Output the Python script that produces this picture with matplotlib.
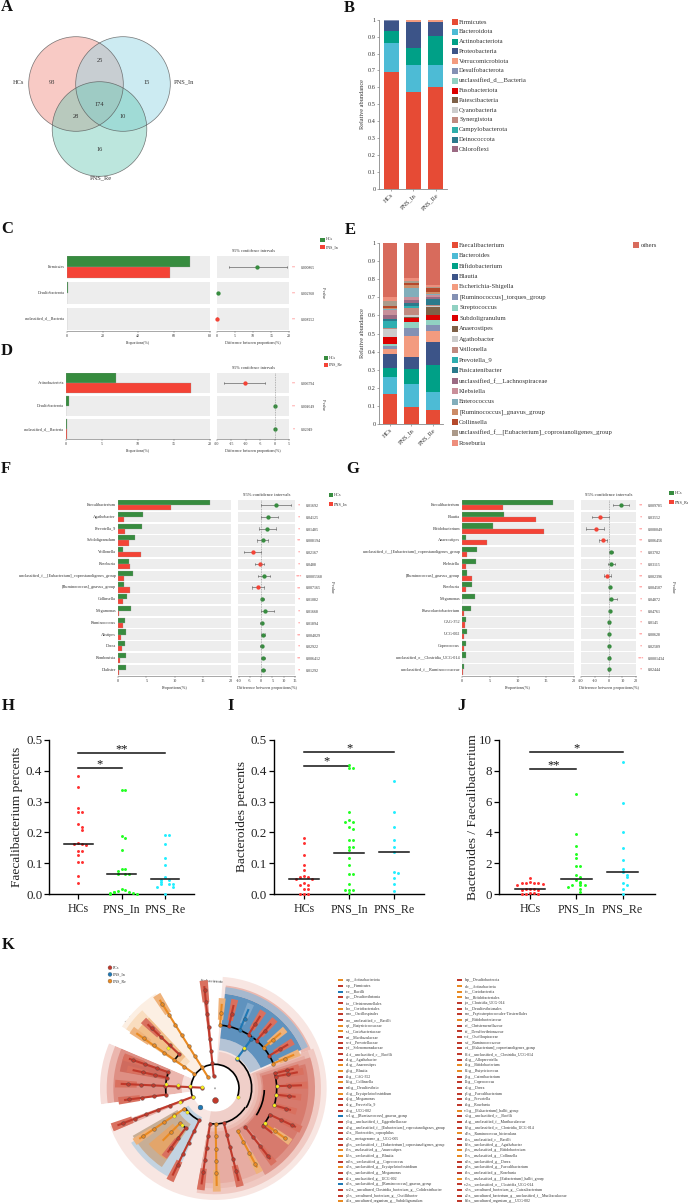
#!/usr/bin/python
# multi panel microbiome figure, everything placed in pixel coords of the page

import numpy as np
import matplotlib
matplotlib.use('Agg')
import matplotlib.pyplot as plt
from matplotlib.patches import Circle, Wedge, Arc, Rectangle

plt.rcParams['font.family'] = ['Liberation Serif', 'DejaVu Serif']
plt.rcParams['axes.unicode_minus'] = False

W, H = 688, 1204
GREEN = '#378C3F'
RED = '#F44336'
ROW = '#EDEDED'

# ---- A venn
venn_names = ['HCs', 'PNS_In', 'PNS_Re']
venn_colors = ['#F08A80', '#8FD3E4', '#6CC9B5']
venn_counts = [93, 15, 16, 25, 28, 10, 174]

# ---- B phylum stack
groups = ['HCs', 'PNS_In', 'PNS_Re']
phyla = ['Firmicutes', 'Bacteroidota', 'Actinobacteriota', 'Proteobacteria', 'Verrucomicrobiota',
         'Desulfobacterota', 'unclassified_d__Bacteria', 'Fusobacteriota', 'Patescibacteria',
         'Cyanobacteria', 'Synergistota', 'Campylobacterota', 'Deinococcota', 'Chloroflexi']
phyla_colors = ['#E64B35', '#4DBBD5', '#00A087', '#3C5488', '#F39B7F', '#8491B4', '#91D1C2',
                '#DC0000', '#7E6148', '#CCCCCC', '#C08A80', '#2FAEAA', '#2B7A8C', '#9B6A83']
phyla_hcs = [.69, .175, .07, .058, .001, .004, .001, 0, 0, .001, 0, 0, 0, 0]
phyla_in = [.575, .16, .095, .155, .013, .001, .001, 0, 0, 0, 0, 0, 0, 0]
phyla_re = [.605, .13, .17, .08, .014, .001, 0, 0, 0, 0, 0, 0, 0, 0]

# ---- E genus stack
genera = ['Faecalibacterium', 'Bacteroides', 'Bifidobacterium', 'Blautia', 'Escherichia-Shigella',
          '[Ruminococcus]_torques_group', 'Streptococcus', 'Subdoligranulum', 'Anaerostipes',
          'Agathobacter', 'Veillonella', 'Prevotella_9', 'Fusicatenibacter',
          'unclassified_f__Lachnospiraceae', 'Klebsiella', 'Enterococcus',
          '[Ruminococcus]_gnavus_group', 'Collinsella',
          'unclassified_f__[Eubacterium]_coprostanoligenes_group', 'Roseburia', 'others']
genera_colors = ['#E64B35', '#4DBBD5', '#00A087', '#3C5488', '#F39B7F', '#8491B4', '#91D1C2',
                 '#DC0000', '#7E6148', '#CCCCCC', '#C08A80', '#2FAEB0', '#2B7A8C', '#9B6A83',
                 '#C98F9A', '#82AEBB', '#CC8C68', '#B5492B', '#AB9A8A', '#EE8E7C', '#D86B5C']
genera_hcs = [.162, .095, .053, .075, .027, .018, .01, .038, .004, .043, .005, .042, .011, .017,
              .03, .005, .005, .012, .028, .02, .30]
genera_in = [.095, .127, .083, .065, .115, .045, .033, .024, .005, .008, .04, .015, .015, .015,
             .015, .05, .02, .01, .01, .02, .19]
genera_re = [.075, .103, .147, .13, .06, .032, .03, .023, .045, .005, .008, .002, .03, .015,
             .01, .005, .01, .02, .01, .01, .23]

# ---- C, D extended error bars
c_names = ['Firmicutes', 'Desulfobacterota', 'unclassified_d__Bacteria']
c_a = [69, 0.7, 0.3]
c_b = [57.5, 0.05, 0.05]
c_diff = [11.2, 0.2, -0.1]
c_lo = [3.2, 0.1, -0.2]
c_hi = [19.4, 0.3, 0.0]
c_p = ['0.000865', '0.002368', '0.008252']
c_star = ['**', '**', '**']

d_names = ['Actinobacteriota', 'Desulfobacterota', 'unclassified_d__Bacteria']
d_a = [7.0, 0.35, 0.2]
d_b = [17.3, 0.05, 0.1]
d_diff = [-10.4, 0.3, 0.1]
d_lo = [-17.6, 0.2, 0.0]
d_hi = [-3.5, 0.4, 0.2]
d_p = ['0.006794', '0.004649', '0.02949']
d_star = ['**', '**', '*']

f_names = ['Faecalibacterium', 'Agathobacter', 'Prevotella_9', 'Subdoligranulum', 'Veillonella',
           'Roseburia', 'unclassified_f__[Eubacterium]_coprostanoligenes_group',
           '[Ruminococcus]_gnavus_group', 'Collinsella', 'Megamonas', 'Ruminococcus', 'Alistipes',
           'Dorea', 'Romboutsia', 'Dialister']
f_a = [16.2, 4.4, 4.2, 3.0, 0.8, 1.9, 2.7, 1.0, 1.6, 2.3, 1.3, 1.4, 1.25, 1.5, 1.4]
f_b = [9.3, 1.0, 1.2, 2.0, 4.0, 2.1, 1.1, 2.1, 0.85, 0.1, 0.85, 0.5, 0.65, 0.3, 0.15]
f_diff = [6.6, 3.2, 2.7, 0.6, -3.6, -0.5, 1.2, -1.4, 0.4, 1.8, 0.2, 0.6, 0.2, 0.9, 0.9]
f_lo = [0, 0, -0.8, -2, -7.5, -2.6, -1.5, -3.9, -0.3, -0.3, -0.5, -0.2, -0.5, 0.1, 0.1]
f_hi = [13.2, 7.3, 6.6, 2.9, -0.2, 1.4, 3.9, 1.1, 1.2, 5.8, 1.0, 1.5, 1.0, 1.8, 1.8]
f_p = ['0.01692', '0.04125', '0.01485', '0.008194', '0.02167', '0.0488', '0.0005568', '0.007165',
       '0.01082', '0.01668', '0.01894', '0.004029', '0.02922', '0.006412', '0.01292']
f_star = ['*', '*', '*', '**', '*', '*', '***', '**', '*', '*', '*', '**', '*', '**', '*']

g_names = ['Faecalibacterium', 'Blautia', 'Bifidobacterium', 'Anaerostipes',
           'unclassified_f__[Eubacterium]_coprostanoligenes_group', 'Klebsiella',
           '[Ruminococcus]_gnavus_group', 'Roseburia', 'Megamonas', 'Phascolarctobacterium',
           'CAG-352', 'UCG-002', 'Coprococcus', 'unclassified_o__Clostridia_UCG-014',
           'unclassified_f__Ruminococcaceae']
g_a = [16.2, 7.5, 5.5, 0.7, 2.7, 2.5, 0.95, 1.8, 2.25, 1.55, 0.75, 0.85, 0.65, 0.75, 0.35]
g_b = [7.4, 13.2, 14.6, 4.5, 0.9, 0.7, 1.8, 0.65, 0.05, 0.3, 0.5, 0.4, 0.35, 0.02, 0.15]
g_diff = [8.8, -6, -9.3, -4, 1.7, 1.7, -1, 1, 2.1, 1, 0, 0.2, 0.2, 0.5, 0]
g_lo = [2.9, -11.7, -16, -7.1, 0, -0.7, -3.1, 0, 0, 0, -0.7, -0.5, -0.5, 0, -0.7]
g_hi = [14.8, 0, -2.9, -1, 3.3, 4.5, 1.7, 2.1, 6, 2.1, 1.2, 0.9, 0.9, 1.4, 0.7]
g_p = ['0.009785', '0.03552', '0.008049', '0.006456', '0.03702', '0.03115', '0.002396', '0.004507',
       '0.04872', '0.04761', '0.0145', '0.00628', '0.02589', '0.0001434', '0.02444']
g_star = ['**', '*', '**', '**', '*', '*', '**', '**', '*', '*', '*', '**', '*', '***', '*']

# ---- H, I, J scatter values
h_hcs = [.384, .348, .278, .265, .265, .228, .218, .209, .167, .162, .162, .160, .141, .141, .126,
         .106, .106, .059, .037]
h_in = [.336, .336, .187, .181, .143, .083, .083, .075, .067, .067, .067, .018, .014, .012, .008,
        .008, .006, .005, .004, .002, .002]
h_re = [.191, .191, .163, .117, .095, .056, .046, .046, .041, .032, .032, .032, .023, .023, .002]
h_mean = [.162, .066, .048]
h_sig = [(0, 1, .407, '*'), (0, 2, .456, '**')]

i_hcs = [.183, .167, .128, .095, .079, .059, .055, .055, .05, .05, .035, .03, .03, .016, .016,
         .001, .001, .001]
i_in = [.419, .407, .407, .266, .24, .235, .235, .217, .21, .176, .176, .154, .154, .143, .116,
        .095, .067, .067, .032, .014, .014, .014, .003]
i_re = [.365, .267, .217, .176, .154, .136, .073, .068, .054, .033, .011]
i_mean = [.051, .133, .136]
i_sig = [(0, 1, .416, '*'), (0, 2, .459, '*')]

j_hcs = [1.05, .78, .75, .75, .72, .7, .65, .62, .35, .33, .32, .3, .3, .08, .06, .05, .05, .04]
j_in = [6.47, 3.92, 3.15, 2.6, 2.37, 1.85, 1.8, 1.23, 1.15, .93, .82, .7, .6, .6, .6, .5, .32, .17]
j_re = [8.53, 5.9, 4.03, 2.97, 2.22, 1.66, 1.42, 1.23, 1.14, .75, .6, .37, 0]
j_mean = [.37, .97, 1.42]
j_sig = [(0, 1, 8.08, '**'), (0, 2, 9.2, '*')]

# ---- K cladogram key
key_a = ['a:p__Actinobacteriota', 'c:p__Firmicutes', 'e:c__Bacilli', 'g:c__Desulfovibrionia',
         'i:o__Christensenellales', 'k:o__Coriobacteriales', 'm:o__Oscillospirales',
         'o:o__unclassified_c__Bacilli', 'q:f__Butyricicoccaceae', 's:f__Coriobacteriaceae',
         'u:f__Muribaculaceae', 'w:f__Prevotellaceae', 'y:f__Selenomonadaceae',
         'a1:f__unclassified_c__Bacilli', 'c1:g__Agathobacter', 'e1:g__Anaerostipes', 'g1:g__Blautia',
         'i1:g__CAG-352', 'k1:g__Collinsella', 'm1:g__Desulfovibrio', 'o1:g__Erysipelatoclostridium',
         'q1:g__Megamonas', 's1:g__Prevotella_9', 'u1:g__UCG-002', 'w1:g__[Ruminococcus]_gnavus_group',
         'y1:g__unclassified_f__Eggerthellaceae', 'a2:g__unclassified_f__[Eubacterium]_coprostanoligenes_group',
         'c2:s__Bacteroides_coprophilus', 'e2:s__metagenome_g__UCG-005',
         'g2:s__unclassified_f__[Eubacterium]_coprostanoligenes_group', 'i2:s__unclassified_g__Anaerostipes',
         'k2:s__unclassified_g__Blautia', 'm2:s__unclassified_g__Coprococcus',
         'o2:s__unclassified_g__Erysipelatoclostridium', 'q2:s__unclassified_g__Megamonas',
         's2:s__unclassified_g__UCG-002', 'u2:s__unclassified_g__[Ruminococcus]_gnavus_group',
         'w2:s__uncultured_Clostridia_bacterium_g__Colidextribacter',
         'y2:s__uncultured_bacterium_g__Oscillibacter', 'a3:s__uncultured_organism_g__Subdoligranulum']
key_a_grp = 'ORBRRORROO' 'RRRRROOROR' 'ORRRBRRRRR' 'OORORRBRRO'
key_b = ['b:p__Desulfobacterota', 'd:c__Actinobacteria', 'f:c__Coriobacteriia', 'h:o__Bifidobacteriales',
         'j:o__Clostridia_UCG-014', 'l:o__Desulfovibrionales', 'n:o__Peptostreptococcales-Tissierellales',
         'p:f__Bifidobacteriaceae', 'r:f__Christensenellaceae', 't:f__Desulfovibrionaceae',
         'v:f__Oscillospiraceae', 'x:f__Ruminococcaceae', 'z:f__[Eubacterium]_coprostanoligenes_group',
         'b1:f__unclassified_o__Clostridia_UCG-014', 'd1:g__Alloprevotella', 'f1:g__Bifidobacterium',
         'h1:g__Butyricicoccus', 'j1:g__Catenibacterium', 'l1:g__Coprococcus', 'n1:g__Dorea',
         'p1:g__Faecalibacterium', 'r1:g__Prevotella', 't1:g__Roseburia', 'v1:g__[Eubacterium]_hallii_group',
         'x1:g__unclassified_c__Bacilli', 'z1:g__unclassified_f__Muribaculaceae',
         'b2:g__unclassified_o__Clostridia_UCG-014', 'd2:s__Ruminococcus_bicirculans',
         'f2:s__unclassified_c__Bacilli', 'h2:s__unclassified_g__Agathobacter',
         'j2:s__unclassified_g__Bifidobacterium', 'l2:s__unclassified_g__Collinsella',
         'n2:s__unclassified_g__Dorea', 'p2:s__unclassified_g__Faecalibacterium',
         'r2:s__unclassified_g__Roseburia', 't2:s__unclassified_g__[Eubacterium]_hallii_group',
         'v2:s__unclassified_o__Clostridia_UCG-014', 'x2:s__uncultured_bacterium_g__Catenibacterium',
         'z2:s__uncultured_bacterium_g__unclassified_f__Muribaculaceae',
         'b3:s__uncultured_organism_g__UCG-002']
key_b_grp = 'ROOORRRORR' 'RRRRROORRR' 'RRRORRRORR' 'OORRRORRRR'
clade_colors = {'R': '#C0392B', 'B': '#1F78B4', 'O': '#E98A22'}
clade_light = {'R': '#D9705F', 'B': '#7FA8CC', 'O': '#EFB27A'}
clade_names = ['PCs', 'PNS_In', 'PNS_Re']

# branches of the cladogram: angle, inner radius, outer radius, clade
# radii are in zoomed units where the outer rim is about 350
tree_branches = [
    (85.4, 190, 251, 'O'), (77.4, 190, 253, 'R'), (67, 190, 255, 'B'), (58, 190, 253, 'R'),
    (49, 190, 254, 'R'), (40, 190, 255, 'O'), (31, 190, 253, 'R'), (23, 190, 255, 'O'),
    (53.5, 110, 190, 'B'),
    (14, 185, 240, 'R'), (11, 185, 250, 'R'), (2, 185, 258, 'R'), (-6, 185, 240, 'R'), (-16, 185, 234, 'R'),
    (-25.6, 182, 266, 'R'), (-35.5, 183, 258, 'O'), (-38, 183, 215, 'R'),
    (-52, 147, 267, 'R'), (-62, 145, 266, 'O'), (-75.7, 107, 284, 'R'), (-89, 107, 290, 'O'),
    (-98, 107, 288, 'R'),
    (244, 107, 288, 'R'), (213.7, 110, 270, 'O'), (225, 148, 219, 'O'), (233.5, 148, 236, 'R'),
    (200.8, 72, 310, 'R'),
    (177.3, 38, 280, 'R'), (187.4, 148, 272, 'R'), (161, 148, 270, 'R'), (167.5, 148, 250, 'R'),
    (122, 39, 310, 'O'), (145, 76, 285, 'O'), (136.5, 150, 276, 'R'),
    (96, 38, 305, 'R'),
]
# black connecting arcs: radius, start angle, end angle
tree_arcs = [(190, 23, 85.4), (110, -32, 53.5), (72, -20, 200), (148, -33, -2), (185, -16, 14),
             (182, -38, -25.6), (107, -98, -32), (107, 213.7, 244), (148, 225, 233.5),
             (148, 161, 187.4), (148, 136.5, 145)]
tree_yellow = [(54, 148), (53, 112), (-20, 72), (2, 185), (-6, 185), (-16, 185), (-35, 183),
               (214, 148), (228, 148), (221, 110), (200.8, 112), (200.8, 72),
               (172, 38), (175, 75), (175, 112), (175, 148), (139, 185)]
clade_labels = ['p__Desulfobacterota', 'p__Actinobacteriota', 'p__Bacteroidota', 'p__Firmicutes']

fig = plt.figure(figsize=(W / 100, H / 100), dpi=100)
page = fig.add_axes([0, 0, 1, 1])
page.set_xlim(0, W)
page.set_ylim(H, 0)
page.axis('off')


def axpx(left, top, right, bottom):
    a = fig.add_axes([left / W, 1 - bottom / H, (right - left) / W, (bottom - top) / H])
    a.patch.set_alpha(0)
    return a


def letter(s, x, y):
    page.text(x, y, s, fontsize=12, fontweight='bold', va='center', ha='left', color='#111111')


def stack(left, top, right, bottom, rows, colors, names, xs, width, lx, ly, step, fs):
    ax = axpx(left, top, right, bottom)
    cum = np.zeros(3)
    for i, c in enumerate(colors):
        v = np.array([r[i] for r in rows])
        ax.bar(range(3), v, bottom=cum, width=width, color=c, linewidth=0)
        cum += v
    ax.set_xlim(*xs)
    ax.set_ylim(0, 1)
    ax.set_yticks(np.arange(0, 1.01, .1))
    ax.set_yticklabels(['0', '0.1', '0.2', '0.3', '0.4', '0.5', '0.6', '0.7', '0.8', '0.9', '1'], fontsize=fs)
    ax.set_xticks(range(3))
    ax.set_xticklabels(groups, fontsize=fs, rotation=45, ha='right', rotation_mode='anchor')
    for s in ['top', 'right']:
        ax.spines[s].set_visible(False)
    for s in ['left', 'bottom']:
        ax.spines[s].set_linewidth(.6)
        ax.spines[s].set_color('#888888')
    ax.tick_params(length=1.6, width=.4, pad=1, color='#666666', labelcolor='#333333')
    ax.set_ylabel('Relative abundance', fontsize=fs, labelpad=2, color='#333333')
    for i, n in enumerate(names):
        if n == 'others':
            x0, y0 = 633, ly
        else:
            x0, y0 = lx, ly + i * step
        page.add_patch(Rectangle((x0, y0 - 3), 6, 6, color=colors[i], linewidth=0))
        page.text(x0 + 7.5, y0, n, fontsize=fs + .3, va='center', color='#333333')


def ext_bars(name_list, a_vals, b_vals, diffs, los, his, pvals, stars, left, mid, xmax, r_left, r_right,
             r_lim, r_ticks, top, row_h, step, axis_y, xticks, fs, star_x, p_x, conf_y, lab_y,
             leg_x, leg_y, leg_dy, name_b, pv_x, pv_y, tick_len=1.5):
    rows = axpx(left, top, mid, axis_y)
    rows.set_xlim(0, xmax)
    rows.set_ylim(axis_y - top, 0)
    diff = axpx(r_left, top, r_right, axis_y)
    diff.set_xlim(*r_lim)
    diff.set_ylim(axis_y - top, 0)
    for i, nm in enumerate(name_list):
        y0 = i * step
        rows.add_patch(Rectangle((0, y0), xmax, row_h, color=ROW, linewidth=0))
        diff.add_patch(Rectangle((r_lim[0], y0), r_lim[1] - r_lim[0], row_h, color=ROW, linewidth=0))
        rows.barh(y0 + row_h / 4, a_vals[i], height=row_h / 2, color=GREEN, edgecolor='#999999', linewidth=.2)
        rows.barh(y0 + 3 * row_h / 4, b_vals[i], height=row_h / 2, color=RED, edgecolor='#999999', linewidth=.2)
        yc = y0 + row_h / 2
        diff.plot([los[i], his[i]], [yc, yc], color='#666666', lw=.5)
        for e in (los[i], his[i]):
            diff.plot([e, e], [yc - 1.2, yc + 1.2], color='#666666', lw=.4)
        diff.plot(diffs[i], yc, 'o', ms=3.1, color=GREEN if diffs[i] >= 0 else RED, mew=0, clip_on=False)
        ypage = top + yc
        page.text(left - 2, ypage, nm, ha='right', va='center', fontsize=fs, color='#333333')
        page.text(star_x, ypage + .5, stars[i], ha='center', va='center', fontsize=fs, color='#FF5A5A')
        page.text(p_x, ypage + 1, pvals[i], ha='left', va='center', fontsize=fs - .2, color='#333333')
    if r_lim[0] < 0:
        diff.axvline(0, color='#777777', lw=.4, ls=(0, (1.5, 1.5)), ymin=0, ymax=1.0, clip_on=False)
    for a, ticks in ((rows, xticks), (diff, r_ticks)):
        for s in ['top', 'right', 'left']:
            a.spines[s].set_visible(False)
        a.spines['bottom'].set_linewidth(.4)
        a.spines['bottom'].set_color('#666666')
        a.set_yticks([])
        a.set_xticks(ticks)
        a.tick_params(axis='x', length=tick_len, width=.3, pad=.8, labelsize=fs, color='#666666', labelcolor='#333333')
    page.text((r_left + r_right) / 2, conf_y, '95% confidence intervals', ha='center', va='center', fontsize=fs + .2, color='#333333')
    page.text((left + mid) / 2, lab_y, 'Proportions(%)', ha='center', va='center', fontsize=fs, color='#333333')
    page.text((r_left + r_right) / 2, lab_y, 'Difference between proportions(%)', ha='center', va='center', fontsize=fs, color='#333333')
    page.text(pv_x, pv_y, 'P-value', rotation=270, ha='center', va='center', fontsize=fs, color='#333333')
    for k, (c, t) in enumerate(((GREEN, 'HCs'), (RED, name_b))):
        page.add_patch(Rectangle((leg_x, leg_y + k * leg_dy - 2), 4.5, 4, color=c, linewidth=0))
        page.text(leg_x + 5.5, leg_y + k * leg_dy, t, va='center', fontsize=fs, color='#333333')


def swarm(vals, dy, dx):
    # lay near-equal values side by side, like a prism scatter
    vals = np.sort(np.array(vals, dtype=float))[::-1]
    xs = []
    placed = []
    for v in vals:
        k = sum(1 for p in placed if abs(p - v) < dy)
        off = ((k + 1) // 2) * dx * (1 if k % 2 else -1)
        xs.append(off)
        placed.append(v)
    return np.array(xs), vals


def dots(left, right, top, bottom, xc0, sp, series, means, sig, ylim, yticks, tick_fmt, ylabel, dy, ylab_x):
    ax = axpx(left, top, right, bottom)
    ax.set_xlim((left - xc0) / sp, (right - xc0) / sp)
    ax.set_ylim(*ylim)
    for i, (v, c) in enumerate(zip(series, ['#FF3030', '#22FF22', '#22EEFF'])):
        o, y = swarm(v, dy, .09)
        ax.scatter(i + o, y, s=4.5, color=c, linewidths=0, zorder=3, clip_on=False)
        ax.plot([i - .33, i + .33], [means[i], means[i]], color='#111111', lw=1.1, zorder=4)
    for a, b, y, st in sig:
        ax.plot([a, b], [y, y], color='#111111', lw=1.1, clip_on=False)
        ax.text((a + b) / 2, y - ylim[1] * .012, st, ha='center', va='bottom', fontsize=9, color='#111111')
    for s in ['top', 'right']:
        ax.spines[s].set_visible(False)
    for s in ['left', 'bottom']:
        ax.spines[s].set_linewidth(1.0)
    ax.set_yticks(yticks)
    ax.set_yticklabels([tick_fmt % t for t in yticks], fontsize=9.4, color='#222222')
    ax.set_xticks(range(3))
    ax.set_xticklabels(groups, fontsize=8.6, color='#222222')
    ax.tick_params(length=3.5, width=.9, pad=1.5)
    ax.tick_params(axis='x', pad=3)
    page.text(ylab_x, (top + bottom) / 2, ylabel, rotation=90, ha='center', va='center', fontsize=9.6, color='#222222')


# A -------------------------------------------------------------------------
letter('A', 1, 7)
venn_xy = [(76, 84), (123, 84), (99.5, 129)]
for (cx, cy), c in zip(venn_xy, venn_colors):
    page.add_patch(Circle((cx, cy), 47.3, facecolor=c, alpha=.45, edgecolor='none'))
for (cx, cy) in venn_xy:
    page.add_patch(Circle((cx, cy), 47.3, facecolor='none', edgecolor='#555555', lw=.5, alpha=.8))
venn_pos = [(52, 82), (147, 82), (99.5, 149.5), (99.5, 60), (76, 116), (123, 116), (99.5, 105)]
for (x, y), n in zip(venn_pos, venn_counts):
    page.text(x, y, str(n), ha='center', va='center', fontsize=4.6, color='#333333')
page.text(18, 82, venn_names[0], ha='center', va='center', fontsize=4.6, color='#333333')
page.text(184, 82, venn_names[1], ha='center', va='center', fontsize=4.6, color='#333333')
page.text(100.5, 178, venn_names[2], ha='center', va='center', fontsize=4.6, color='#333333')

# B, E ----------------------------------------------------------------------
letter('B', 344, 8)
stack(379, 19.7, 447, 189, [phyla_hcs, phyla_in, phyla_re], phyla_colors, phyla, (-.54, 2.5), .67, 451.5, 22, 9.8, 4.5)
letter('E', 345, 230)
stack(379, 243.3, 443, 423.7, [genera_hcs, genera_in, genera_re], genera_colors, genera, (-.51, 2.47), .66, 451.5, 245.3, 10.42, 4.5)

# C, D ----------------------------------------------------------------------
letter('C', 1, 229)
ext_bars(c_names, c_a, c_b, c_diff, c_lo, c_hi, c_p, c_star, 66.7, 210, 80, 217, 289.3, (0, 20), [0, 5, 10, 15, 20],
         256, 22, 25.8, 330.7, [0, 20, 40, 60, 80], 2.9, 294, 300.5, 251, 343, 320, 239.5, 7.5, 'PNS_In', 323, 293)
letter('D', 1, 351)
ext_bars(d_names, d_a, d_b, d_diff, d_lo, d_hi, d_p, d_star, 66, 210, 20, 217, 289, (-20, 5), [-20, -15, -10, -5, 0, 5],
         373, 19.7, 23.1, 439.3, [0, 5, 10, 15, 20], 2.9, 294, 300.5, 368, 451, 323.5, 358, 6.5, 'PNS_Re', 323, 405)

# F, G ----------------------------------------------------------------------
letter('F', 1, 469)
ext_bars(f_names, f_a, f_b, f_diff, f_lo, f_hi, f_p, f_star, 118, 231.3, 20, 238, 295, (-10.3, 15), [-10, -5, 0, 5, 10, 15],
         500, 10.3, 11.76, 675.7, [0, 5, 10, 15, 20], 3.1, 299, 306, 495, 688, 328.5, 495, 9, 'PNS_In', 332, 587)
letter('G', 346, 469)
ext_bars(g_names, g_a, g_b, g_diff, g_lo, g_hi, g_p, g_star, 462, 574, 20, 580.7, 636.3, (-20, 20), [-20, -10, 0, 10, 20],
         500, 10.3, 11.73, 675.7, [0, 5, 10, 15, 20], 3.1, 641, 648, 495, 688, 669, 493, 9, 'PNS_Re', 673, 587)

# H, I, J -------------------------------------------------------------------
letter('H', 2, 706)
dots(49.3, 194, 739.7, 894.3, 78.3, 43.3, [h_hcs, h_in, h_re], h_mean, h_sig, (0, .5), [0, .1, .2, .3, .4, .5],
     '%.1f', 'Faecalibacterium percents', .011, 17)
letter('I', 227, 706)
dots(274, 424, 739.7, 894.3, 304.3, 45, [i_hcs, i_in, i_re], i_mean, i_sig, (0, .5), [0, .1, .2, .3, .4, .5],
     '%.1f', 'Bacteroides percents', .011, 242)
letter('J', 457, 706)
dots(499, 654.7, 739.7, 894.3, 530, 46.3, [j_hcs, j_in, j_re], j_mean, j_sig, (0, 10), [0, 2, 4, 6, 8, 10],
     '%d', 'Bacteroides / Faecalibacterium', .2, 473)

# K -------------------------------------------------------------------------
letter('K', 2, 945)
kx, ky = 215, 1088.3  # page centre of the wheel
clad = axpx(kx - 120, ky - 120, kx + 120, ky + 120)
clad.set_xlim(-360, 360)
clad.set_ylim(-360, 360)
clad.axis('off')


def shade(t1, t2, r1, r2, c):
    clad.add_patch(Wedge((0, 0), r2, t1, t2, width=r2 - r1, facecolor=c, edgecolor='none'))


# clade background sectors, outer first
for t1, t2, r1, r2, c in [
    (-160, 86, 70, 335, '#F8E6E2'),
    (-100, 22, 110, 318, '#F0C9C2'),
    (-100, 22, 120, 300, '#EBBCB3'),
    (22, 84, 280, 310, '#EBB8AF'),
    (28, 84, 70, 110, '#F0CFC9'),
    (-100, 28, 70, 110, '#F0CFC9'),
    (-100, 20, 130, 285, '#E7ACA2'),
    (-60, 18, 140, 300, '#DE9287'),
    (-50, 15, 145, 280, '#D77A6D'),
    (24, 84, 115, 150, '#B5C4D6'),
    (24, 84, 150, 285, '#5F92BE'),
    (24, 84, 285, 305, '#A6B8CE'),
    (-147, -114, 95, 300, '#C3D3E1'),
    (-150, -124, 130, 285, '#C7AE96'),
    (-140, -125, 165, 260, '#E3A56A'),
    (-160.5, -157, 70, 325, '#E7B0A8'),
    (157, 188, 70, 345, '#F6DDD9'),
    (157, 188, 100, 325, '#EBB6AE'),
    (157, 188, 145, 305, '#DE8F84'),
    (160, 170, 145, 290, '#CF6B5E'),
    (122, 146.5, 70, 335, '#FCEFE3'),
    (133, 146.5, 110, 320, '#F9DDBF'),
    (133, 148, 130, 290, '#F2BF8B'),
    (94.5, 97.5, 150, 310, '#E59A90'),
]:
    shade(t1, t2, r1, r2, c)
# punch the gaps between phyla back to white
for t1, t2 in [(97.5, 121.5), (146.5, 157), (188, 198.5)]:
    shade(t1, t2, 40, 360, 'white')
shade(0, 360, 0, 42, 'white')
clad.add_patch(Circle((0, 0), 3, facecolor='#AAAAAA', edgecolor='none', zorder=6))

# leaf highlight strips sit under the branches
for ang, r0, r1, g in tree_branches:
    if r1 >= 230:
        shade(ang - 2.2, ang + 2.2, r1 - 45, r1 + 20, clade_light[g])

for r, a1, a2 in tree_arcs:
    clad.add_patch(Arc((0, 0), 2 * r, 2 * r, theta1=a1, theta2=a2, color='black', lw=1.2, zorder=4))
for ang, r0, r1, g in tree_branches:
    t = np.radians(ang)
    c = clade_colors[g]
    clad.plot([r0 * np.cos(t), r1 * np.cos(t)], [r0 * np.sin(t), r1 * np.sin(t)], color=c, lw=1.5, zorder=5)
    ticks = np.arange(r0 + 37, r1 + 1, 37)
    clad.scatter(ticks * np.cos(t), ticks * np.sin(t), s=7, color=c, edgecolors='#444444', linewidths=.25, zorder=7)
    clad.scatter([r0 * np.cos(t)], [r0 * np.sin(t)], s=7, color=c, edgecolors='#444444', linewidths=.25, zorder=7)
for ang, r in tree_yellow:
    t = np.radians(ang)
    clad.scatter(r * np.cos(t), r * np.sin(t), s=6, color='#F7EE1A', edgecolors='#777777', linewidths=.2, zorder=8)
clad.scatter([0], [-35], s=18, color='#C0392B', edgecolors='#444444', linewidths=.25, zorder=8)
clad.scatter([72 * np.cos(np.radians(232))], [72 * np.sin(np.radians(232))], s=12, color='#1F78B4', edgecolors='#444444', linewidths=.25, zorder=8)

page.text(205, 981.5, clade_labels[0], fontsize=3.4, rotation=-3, ha='center', va='center', color='#333333')
page.text(140, 1010, clade_labels[1], fontsize=3.4, rotation=40, ha='center', va='center', color='#333333')
page.text(107, 1073, clade_labels[2], fontsize=3.4, rotation=86, ha='center', va='center', color='#333333')
page.text(302, 1151, clade_labels[3], fontsize=3.4, rotation=232, ha='center', va='center', color='#333333')

for i, (t, g) in enumerate(zip(clade_names, 'RBO')):
    page.add_patch(Circle((110, 967.7 + i * 6.7), 2, facecolor=clade_colors[g], edgecolor='#555555', lw=.2))
    page.text(113, 967.7 + i * 6.7, t, fontsize=2.9, va='center', color='#333333')

for labels, grp, x0 in ((key_a, key_a_grp, 338), (key_b, key_b_grp, 457)):
    for i, t in enumerate(labels):
        y = 980.3 + i * 5.667
        page.add_patch(Rectangle((x0, y - .9), 4.5, 1.8, color=clade_colors[grp[i]], linewidth=0))
        page.text(x0 + 7.5, y, t, fontsize=2.75, va='center', color='#333333')

plt.savefig('out.png', dpi=100)
